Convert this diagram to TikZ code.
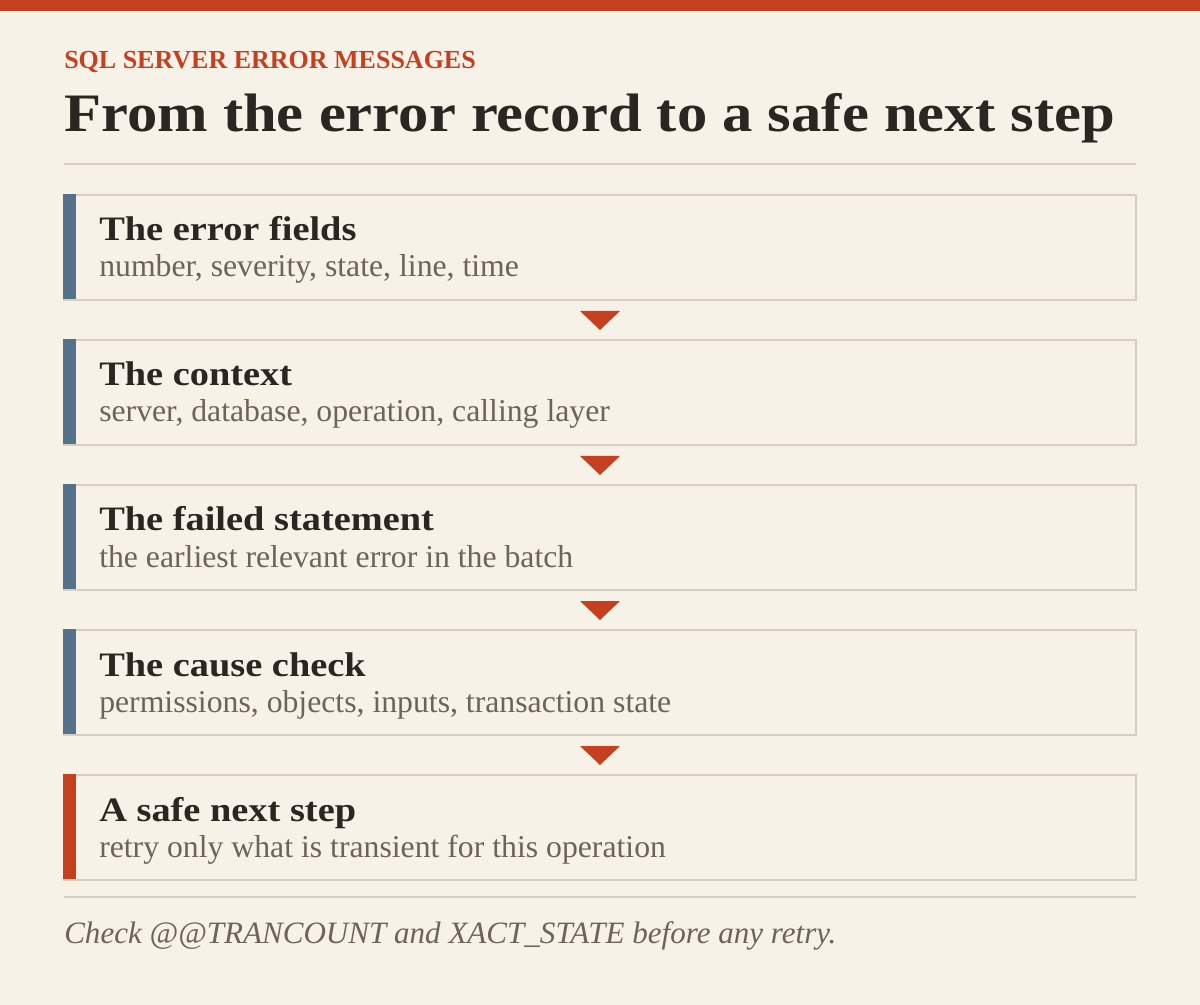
\documentclass[tikz,border=0pt]{standalone}
\usepackage{fontspec}
\setmainfont{Liberation Serif}
\newfontfamily\headfont{Liberation Serif}[FakeStretch=1.12]
\usepackage{tikz}
\usetikzlibrary{calc}

\definecolor{paper}{HTML}{F7F2E8}
\definecolor{rust}{HTML}{C4401E}
\definecolor{slate}{HTML}{56718A}
\definecolor{rulegray}{HTML}{D6CEC1}
\definecolor{ink}{HTML}{2A2622}
\definecolor{muted}{HTML}{6A645B}

\tikzset{
  stepbox/.style={draw=rulegray, line width=1.5pt, fill=paper, minimum width=804pt, minimum height=78.75pt, inner sep=0pt},
  steptitle/.style={anchor=base west, inner sep=0pt, text=ink, font=\headfont\fontsize{25.7}{30}\selectfont\bfseries},
  stepnote/.style={anchor=base west, inner sep=0pt, text=muted, font=\fontsize{23.8}{27}\selectfont},
  pointer/.style={fill=rust}
}

\begin{document}
\begin{tikzpicture}[x=0.75pt,y=0.75pt,yscale=-1]
\useasboundingbox (0,0) rectangle (1200,1005);
%Background
\fill[paper] (0,0) rectangle (1200,1005);
%Top band
\fill[rust] (0,0) rectangle (1200,11);

% Text Node
\node (kicker) [anchor=base west, inner sep=0pt, text=rust, font=\fontsize{19.5}{22}\selectfont\bfseries] at (64,69) {SQL SERVER ERROR MESSAGES};
% Text Node
\node (headline) [anchor=base west, inner sep=0pt, text=ink, font=\headfont\fontsize{40.6}{46}\selectfont\bfseries] at (64,132) {From the error record to a safe next step};
%Straight Lines
\draw[rulegray, line width=1.5pt] (64,164) -- (1136,164);

%Step boxes
\node (fields) [stepbox] at (600,247.5) {};
\node (context) [stepbox] at (600,392.5) {};
\node (statement) [stepbox] at (600,537.5) {};
\node (cause) [stepbox] at (600,682.5) {};
\node (nextstep) [stepbox] at (600,827.5) {};

%Side bars
\fill[slate] (fields.north west) rectangle ++(13,105);
\fill[slate] (context.north west) rectangle ++(13,105);
\fill[slate] (statement.north west) rectangle ++(13,105);
\fill[slate] (cause.north west) rectangle ++(13,105);
\fill[rust] (nextstep.north west) rectangle ++(13,105);

% Text Node
\node (fieldsT) [steptitle] at ($(fields.north west)+(36,47)$) {The error fields};
\node (fieldsN) [stepnote] at ($(fields.north west)+(36,83)$) {number, severity, state, line, time};
% Text Node
\node (contextT) [steptitle] at ($(context.north west)+(36,47)$) {The context};
\node (contextN) [stepnote] at ($(context.north west)+(36,83)$) {server, database, operation, calling layer};
% Text Node
\node (statementT) [steptitle] at ($(statement.north west)+(36,47)$) {The failed statement};
\node (statementN) [stepnote] at ($(statement.north west)+(36,83)$) {the earliest relevant error in the batch};
% Text Node
\node (causeT) [steptitle] at ($(cause.north west)+(36,47)$) {The cause check};
\node (causeN) [stepnote] at ($(cause.north west)+(36,83)$) {permissions, objects, inputs, transaction state};
% Text Node
\node (nextstepT) [steptitle] at ($(nextstep.north west)+(36,47)$) {A safe next step};
\node (nextstepN) [stepnote] at ($(nextstep.north west)+(36,83)$) {retry only what is transient for this operation};

%Pointers
\fill[pointer] ($(fields.south)+(-20,10)$) -- ++(40,0) -- ++(-20,19) -- cycle;
\fill[pointer] ($(context.south)+(-20,10)$) -- ++(40,0) -- ++(-20,19) -- cycle;
\fill[pointer] ($(statement.south)+(-20,10)$) -- ++(40,0) -- ++(-20,19) -- cycle;
\fill[pointer] ($(cause.south)+(-20,10)$) -- ++(40,0) -- ++(-20,19) -- cycle;

%Straight Lines
\draw[rulegray, line width=1.5pt] (64,897) -- (1136,897);
% Text Node
\node (footnote) [anchor=base west, inner sep=0pt, text=muted, font=\fontsize{23.3}{27}\selectfont\itshape] at (64,943) {Check @@TRANCOUNT and XACT\_STATE before any retry.};

\end{tikzpicture}
\end{document}
